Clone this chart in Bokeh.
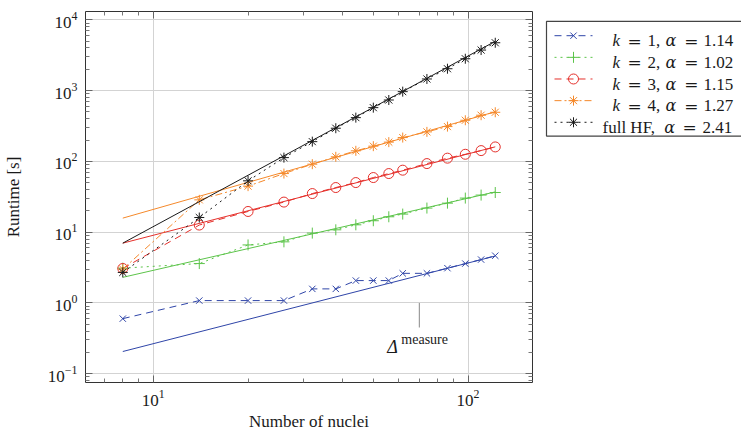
from bokeh.plotting import figure
from bokeh.models import Range1d, FixedTicker, LogAxis, Label, CustomJSTickFormatter
from bokeh.layouts import row
from bokeh.embed import file_html
from bokeh.resources import INLINE
from bokeh.core.properties import value

# ---------------- data ----------------
nuclei = [8, 14, 20, 26, 32, 38, 44, 50, 56, 62, 74, 86, 98, 110, 122]
runtime_k1 = [0.6, 1.08, 1.08, 1.08, 1.58, 1.58, 2.07, 2.07, 2.07, 2.62, 2.62, 3.1, 3.6, 4.1, 4.65]
runtime_k2 = [3.1, 3.6, 6.6, 7.3, 9.7, 10.8, 12.7, 14.5, 16.5, 18.0, 21.9, 25.7, 30.3, 33.4, 36.3]
runtime_k3 = [3.07, 12.6, 19.6, 26.6, 35.1, 42.7, 50.2, 59.1, 67.3, 75.1, 93.1, 111, 126, 142, 160]
runtime_k4 = [3.0, 28.6, 44.7, 67.3, 91.3, 116, 141, 164, 187, 217, 261, 310, 381, 449, 494]
runtime_hf = [2.7, 16.1, 53.1, 113, 190, 294, 415, 574, 736, 966, 1459, 2036, 2818, 3740, 4740]

series_runtime = [runtime_k1, runtime_k2, runtime_k3, runtime_k4, runtime_hf]
series_k = ["1", "2", "3", "4", None]          # None -> "full HF"
fit_alpha = [1.14, 1.02, 1.15, 1.27, 2.41]
fit_prefactor = [0.01925, 0.2758, 0.640, 1.126, 0.0466]   # runtime = c * N^alpha
fit_span = [8, 122]

annot_x = 70
annot_y = [1.0, 0.45]

x_major = [10, 100]
y_major = [0.1, 1, 10, 100, 1000, 10000]

# ---------------- style ----------------
FONT = "Liberation Serif"
MATHFONT = "DejaVu Serif"
colors = ["#2f45a8", "#5cc44a", "#e5302b", "#f5892b", "#1a1a1a"]
markers = ["x", "cross", "circle", "asterisk", "asterisk"]
msizes = [9, 11, 10, 10, 10]
dashes = ["7 5", "2 4", "7 5", "7 3 2 3", "2 4"]

XR = (6.09, 160.2)
YR = (0.0752, 13100)

x_minor = [m * 10 ** e for e in range(0, 3) for m in range(2, 10) if XR[0] < m * 10 ** e < XR[1]]
y_minor = [m * 10.0 ** e for e in range(-2, 5) for m in range(2, 10) if YR[0] < m * 10.0 ** e < YR[1]]
xt = FixedTicker(ticks=x_major, minor_ticks=x_minor)
yt = FixedTicker(ticks=y_major, minor_ticks=y_minor)

p = figure(frame_width=447, frame_height=371, x_axis_type="log", y_axis_type="log",
           x_range=Range1d(*XR), y_range=Range1d(*YR),
           output_backend="svg", toolbar_location=None,
           min_border_left=83, min_border_right=11, min_border_top=11, min_border_bottom=55)
p.outline_line_color = None
p.background_fill_color = "white"

bottom_ax = p.below[0]
left_ax = p.left[0]
bottom_ax.ticker = xt
left_ax.ticker = yt
blank = CustomJSTickFormatter(code="return ''")
top_ax = LogAxis(ticker=xt, formatter=blank)
right_ax = LogAxis(ticker=yt, formatter=blank)
p.add_layout(top_ax, "above")
p.add_layout(right_ax, "right")

for ax in [bottom_ax, left_ax, top_ax, right_ax]:
    ax.axis_line_color = "#333333"
    ax.axis_line_width = 1
    ax.major_tick_in = 7
    ax.major_tick_out = 0
    ax.minor_tick_in = 4
    ax.minor_tick_out = 0
    ax.major_tick_line_color = "#666666"
    ax.minor_tick_line_color = "#777777"
    ax.major_label_text_font = FONT
    ax.major_label_text_font_size = "17px"
    ax.major_label_text_color = "#1a1a1a"
    ax.axis_label_text_font = FONT
    ax.axis_label_text_font_size = "17px"
    ax.axis_label_text_font_style = "normal"
    ax.axis_label_text_color = "#1a1a1a"

for ax in [top_ax, right_ax]:
    ax.major_label_text_font_size = "1px"
    ax.major_label_standoff = 0

bottom_ax.major_label_standoff = 7
left_ax.major_label_standoff = 8
bottom_ax.axis_label = "Number of nuclei"
left_ax.axis_label = "Runtime [s]"
bottom_ax.axis_label_standoff = 3
left_ax.axis_label_standoff = 22

p.xgrid.ticker = xt
p.ygrid.ticker = yt
p.xgrid.grid_line_color = "#d3d3d3"
p.ygrid.grid_line_color = "#d3d3d3"
p.xgrid.grid_line_width = 1
p.ygrid.grid_line_width = 1

for i, ys in enumerate(series_runtime):
    c = colors[i]
    p.line(nuclei, ys, line_color=c, line_width=1, line_dash=dashes[i])
    fit_y = [fit_prefactor[i] * xv ** fit_alpha[i] for xv in fit_span]
    p.line(fit_span, fit_y, line_color=c, line_width=1)
    p.scatter(nuclei, ys, marker=markers[i], size=msizes[i], line_color=c,
              fill_color=None, line_width=1)

# Delta^measure annotation
p.segment(x0=[annot_x], y0=[annot_y[0]], x1=[annot_x], y1=[annot_y[1]],
          line_color="#888888", line_width=1)
p.add_layout(Label(x=annot_x, y=annot_y[1], x_offset=-32, y_offset=-20, text="Δ",
                   text_font=FONT, text_font_size="18px", text_font_style="italic",
                   text_baseline="alphabetic", text_color="#1a1a1a"))
p.add_layout(Label(x=annot_x, y=annot_y[1], x_offset=-18, y_offset=-12, text="measure",
                   text_font=FONT, text_font_size="14px",
                   text_baseline="alphabetic", text_color="#1a1a1a"))

# ---------------- legend (separate panel, pixel coordinates) ----------------
lg = figure(width=200, height=437, x_range=Range1d(541, 741), y_range=Range1d(437, 0),
            output_backend="svg", toolbar_location=None, min_border=0,
            x_axis_location=None, y_axis_location=None)
lg.outline_line_color = None
lg.grid.visible = False

lg.quad(left=[544], right=[739.5], top=[11.7], bottom=[146.7], fill_color="white",
        line_color="#444444", line_width=1.2)

row_y = [28.5 + 25.5 * i for i in range(5)]
for i in range(5):
    y = row_y[i]
    c = colors[i]
    lg.line([552, 590], [y, y], line_color=c, line_width=1, line_dash=dashes[i])
    lg.scatter([571], [y], marker=markers[i], size=msizes[i], line_color=c,
               fill_color=None, line_width=1)
    yb = y + 6
    if series_k[i] is not None:
        pieces = [(610, "k", "italic", FONT, "17px"), (625, "=", "normal", MATHFONT, "17px"),
                  (645, series_k[i] + ",", "normal", FONT, "17px"),
                  (663, "α", "italic", MATHFONT, "16px"), (681.7, "=", "normal", MATHFONT, "17px"),
                  (701, f"{fit_alpha[i]:.2f}", "normal", FONT, "17px")]
    else:
        pieces = [(600, "full HF,", "normal", FONT, "17px"),
                  (661.7, "α", "italic", MATHFONT, "16px"), (680, "=", "normal", MATHFONT, "17px"),
                  (700, f"{fit_alpha[i]:.2f}", "normal", FONT, "17px")]
    for px, t, st, fnt, fs in pieces:
        lg.text(x=[px], y=[yb], text=[t], text_font=value(fnt), text_font_size=fs,
                text_font_style=st, text_baseline="alphabetic", text_align="left",
                text_color="#1a1a1a")

layout = row(p, lg)
open("out.html", "w").write(file_html(layout, INLINE))
